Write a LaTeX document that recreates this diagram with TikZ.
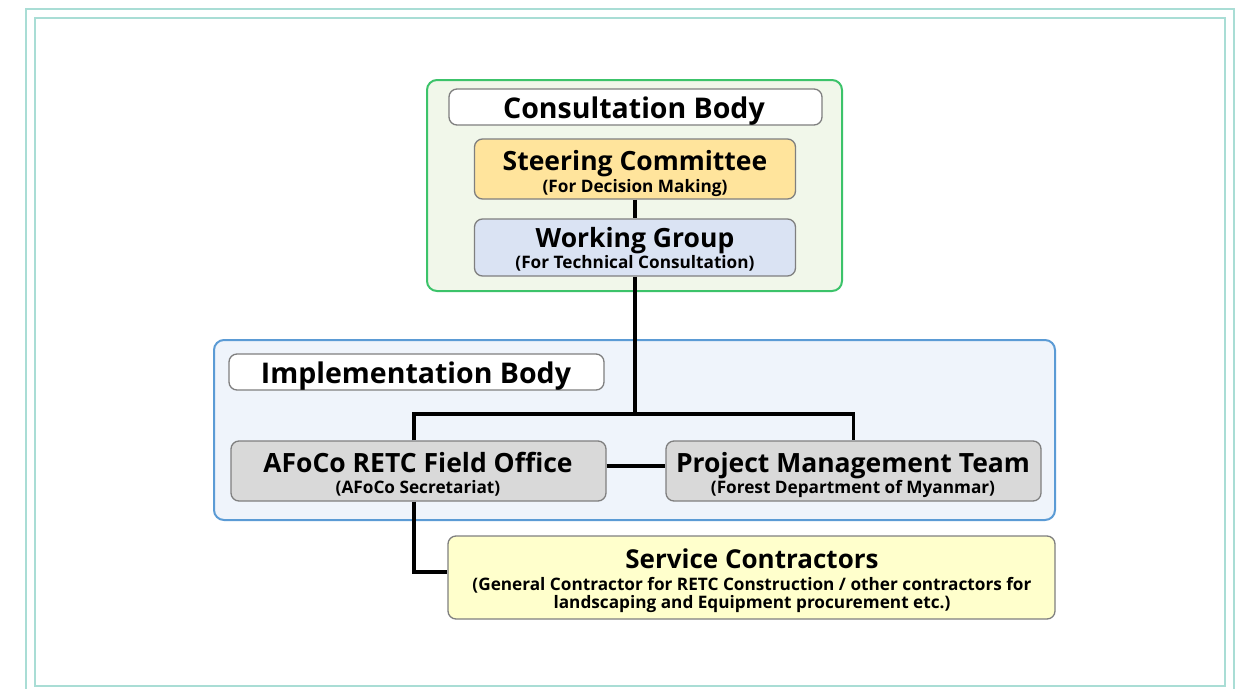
\documentclass[tikz,border=0pt]{standalone}
\usepackage{fontspec}
\setmainfont{Open Sans}
\definecolor{framec}{HTML}{A9DDD5}
\definecolor{greenb}{HTML}{3CC36A}
\definecolor{greenf}{HTML}{F1F7EA}
\definecolor{blueb}{HTML}{5B9BD5}
\definecolor{bluef}{HTML}{EFF4FB}
\definecolor{steerf}{HTML}{FFE49C}
\definecolor{workf}{HTML}{DAE3F3}
\definecolor{grayf}{HTML}{D9D9D9}
\definecolor{servf}{HTML}{FFFFCC}
\definecolor{boxb}{HTML}{7F7F7F}
\begin{document}
\begin{tikzpicture}[x=1pt,y=-1pt,
  framebox/.style={draw=framec,line width=2pt},
  groupbox/.style={rounded corners=10pt,line width=2pt,minimum width=#1,inner sep=0pt},
  box/.style={draw=boxb,rounded corners=8pt,line width=1.3pt,inner sep=0pt,minimum height=60pt},
  lblbox/.style={box,fill=white,minimum height=36pt},
  txt/.style={anchor=base,inner sep=0pt,font=\fontsize{26.5}{28}\selectfont\bfseries},
  lbltxt/.style={txt,font=\fontsize{28.5}{30}\selectfont\bfseries},
  subtxt/.style={txt,font=\fontsize{17.2}{20}\selectfont\bfseries},
  link/.style={line width=3.5pt,black}]
\useasboundingbox (0,0) rectangle (1239,688);
\draw[framebox] (26,9) rectangle (1234,700);
\draw[framebox] (35,18) rectangle (1225,686);
% groups
\node[groupbox=415pt,draw=greenb,fill=greenf,minimum height=211pt] (cons) at (634.5,185.5) {};
\node[groupbox=841pt,draw=blueb,fill=bluef,minimum height=180pt] (impl) at (634.5,430) {};
% label boxes
\node[lblbox,minimum width=373pt] (conslbl) at (635.5,107) {};
\node[lbltxt] (conslblT) at (634,118) {Consultation Body};
\node[lblbox,minimum width=375pt] (impllbl) at (416.5,372) {};
\node[lbltxt] (impllblT) at (416,383) {Implementation Body};
% boxes
\node[box,fill=steerf,minimum width=321pt] (steer) at (635,169) {};
\node[txt] (steerT) at (635,170) {Steering Committee};
\node[subtxt] (steerS) at (635,192) {(For Decision Making)};
\node[box,fill=workf,minimum width=321pt,minimum height=57pt] (work) at (635,247.5) {};
\node[txt] (workT) at (635,247) {Working Group};
\node[subtxt] (workS) at (635,268) {(For Technical Consultation)};
\node[box,fill=grayf,minimum width=375pt] (afoco) at (418.5,471) {};
\node[txt] (afocoT) at (418,472) {AFoCo RETC Field Office};
\node[subtxt] (afocoS) at (418,493) {(AFoCo Secretariat)};
\node[box,fill=grayf,minimum width=375pt] (pmt) at (853.5,471) {};
\node[txt] (pmtT) at (853,472) {Project Management Team};
\node[subtxt] (pmtS) at (853,493) {(Forest Department of Myanmar)};
\node[box,fill=servf,minimum width=607pt,minimum height=83pt] (serv) at (751.5,577.5) {};
\node[txt,font=\fontsize{26}{28}\selectfont\bfseries] (servT) at (752,568) {Service Contractors};
\node[subtxt] (servS1) at (752,590) {(General Contractor for RETC Construction / other contractors for};
\node[subtxt] (servS2) at (752,608) {landscaping and Equipment procurement etc.)};
% connectors
\coordinate (j) at (635,414);
\draw[link] (steer.south) -- (work.north);
\draw[link] (work.south) -- (j);
\draw[link] ([xshift=-4.5pt]afoco.north) |- (j) -| (pmt.north);
\draw[link] ([yshift=5pt]afoco.east) -- ([yshift=5pt]pmt.west);
\draw[link] ([xshift=-4.5pt]afoco.south) |- ([yshift=5.5pt]serv.west);
\end{tikzpicture}
\end{document}
